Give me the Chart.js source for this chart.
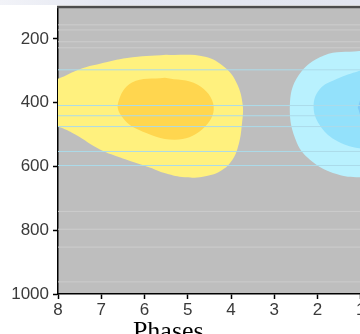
<!DOCTYPE html>
<html>
<head>
<meta charset="utf-8">
<script src="https://cdn.jsdelivr.net/npm/chart.js@4/dist/chart.umd.min.js"></script>
<style>
  html, body { margin: 0; padding: 0; width: 360px; height: 334px; overflow: hidden; background: #ffffff; }
  #strip { position: absolute; left: 0; top: 0; width: 360px; height: 5px;
           background: linear-gradient(to right, #f2f3f8 0%, #e4e7f1 30%, #e2e5ef 100%); }
  #wrap { position: absolute; left: 0; top: 0; width: 440px; height: 350px; }
</style>
</head>
<body>
<div id="strip"></div>
<div id="wrap"><canvas id="c" width="440" height="350"></canvas></div>
<script>
// ---- data (phase, pressure hPa) ----
const xTicks = [8, 7, 6, 5, 4, 3, 2, 1];
const yTicks = [200, 400, 600, 800, 1000];
const xTitle = 'Phases';

// warm anomaly, outer contour
const warmOuter = [[5.5,250],[4.6,256],[4.14,290],[3.87,338],[3.73,406],[3.75,470],[3.82,530],[3.97,580],[4.25,615],[4.65,632],[5.07,634],[5.5,622],[5.88,603],[6.5,575],[7.03,547],[7.6,500],[8.0,475],[8.4,462],[8.4,340],[8.0,325],[7.5,295],[7.03,278],[6.4,260],[5.5,250]];
// warm anomaly, inner contour
const warmInner = [[5.53,322],[4.77,344],[4.40,412],[4.67,484],[5.30,516],[6.15,484],[6.52,444],[6.61,400],[6.29,337],[5.53,322]];
// cold anomaly, outer contour
const coldOuter = [[1.03,238],[0.5,240],[0.0,258],[-0.3,300],[-0.4,420],[-0.3,560],[0.3,625],[1.03,634],[1.56,624],[2.11,586],[2.48,525],[2.64,412],[2.44,315],[1.85,252],[1.03,238]];
// cold anomaly, middle contour
const coldInner = [[1.03,300],[0.4,298],[0.0,330],[-0.1,420],[0.0,500],[0.4,545],[1.03,543],[1.6,516],[1.95,470],[2.09,412],[1.95,358],[1.56,326],[1.03,300]];
// cold anomaly, core contour
const coldCore = [[1.07,415],[0.9,360],[0.5,340],[0.1,380],[0.1,460],[0.5,490],[0.9,470],[1.07,415]];

// faint level lines (hPa)
const levelsGray = [156, 172, 209, 228, 741, 797, 853, 962];
const levelsBlue = [297, 409, 441, 475, 553, 597];

const toPts = a => a.map(p => ({x: p[0], y: p[1]}));

function blob(pts, color, order) {
  return { data: toPts(pts), showLine: true, fill: 'shape', backgroundColor: color,
           borderColor: color, borderWidth: 0, pointRadius: 0, tension: 0.4, order: order };
}
function level(p, color) {
  return { data: [{x: 9, y: p}, {x: -1, y: p}], showLine: true, fill: false,
           borderColor: color, borderWidth: 1, pointRadius: 0, tension: 0, order: 0 };
}

const datasets = [
  blob(warmOuter, '#fff17e', 10),
  blob(warmInner, '#ffd64f', 9),
  blob(coldOuter, '#b9f1fe', 10),
  blob(coldInner, '#93e1fb', 9),
  blob(coldCore, '#7fcbf7', 8),
  ...levelsGray.map(p => level(p, '#cdcdcd')),
  ...levelsBlue.map(p => level(p, '#acdbea'))
];

const bgPlugin = {
  id: 'bg',
  beforeDraw(chart) {
    const {ctx, chartArea: a} = chart;
    ctx.save();
    ctx.fillStyle = '#bebebe';
    ctx.fillRect(a.left, a.top, a.right - a.left, a.bottom - a.top);
    ctx.restore();
  },
  afterDraw(chart) {
    const {ctx, chartArea: a} = chart;
    ctx.save();
    ctx.strokeStyle = '#4c4c4c';
    ctx.lineWidth = 2.5;
    ctx.beginPath();
    ctx.moveTo(a.left - 1, a.top);
    ctx.lineTo(a.right, a.top);
    ctx.stroke();
    // axis title (only its upper part is inside the 334px window)
    const xs = chart.scales.x;
    ctx.fillStyle = '#000000';
    ctx.font = '26px "Liberation Serif"';
    ctx.textAlign = 'center';
    ctx.textBaseline = 'alphabetic';
    ctx.fillText(xTitle, xs.getPixelForValue(5.45), 339);
    ctx.restore();
  }
};

const tickFmt = v => String(v);

new Chart(document.getElementById('c'), {
  type: 'scatter',
  data: { datasets },
  plugins: [bgPlugin],
  options: {
    responsive: false,
    animation: false,
    layout: { padding: { top: 7, right: 36, left: 0, bottom: 0 } },
    plugins: { legend: { display: false }, tooltip: { enabled: false } },
    scales: {
      x: {
        type: 'linear', reverse: true, min: 0, max: 8,
        afterBuildTicks: s => { s.ticks = xTicks.map(v => ({value: v})); },
        afterFit: s => { s.height = 56; s.paddingLeft = 0; s.paddingRight = 0; },
        grid: { drawOnChartArea: false, drawTicks: true, tickLength: 5, color: '#000', tickWidth: 1.5 },
        border: { color: '#000', width: 1.5 },
        ticks: { color: '#3a3a3a', font: { family: 'Liberation Sans', size: 17 }, padding: 1, maxRotation: 0, callback: tickFmt }
      },
      y: {
        type: 'linear', reverse: true, min: 100, max: 1000,
        afterBuildTicks: s => { s.ticks = yTicks.map(v => ({value: v})); },
        afterFit: s => { s.width = 58; s.paddingTop = 0; s.paddingBottom = 0; },
        grid: { drawOnChartArea: false, drawTicks: true, tickLength: 5, color: '#000', tickWidth: 1.5 },
        border: { color: '#000', width: 1.5 },
        ticks: { color: '#3a3a3a', font: { family: 'Liberation Sans', size: 17 }, padding: 4, callback: tickFmt }
      }
    }
  }
});
</script>
</body>
</html>
